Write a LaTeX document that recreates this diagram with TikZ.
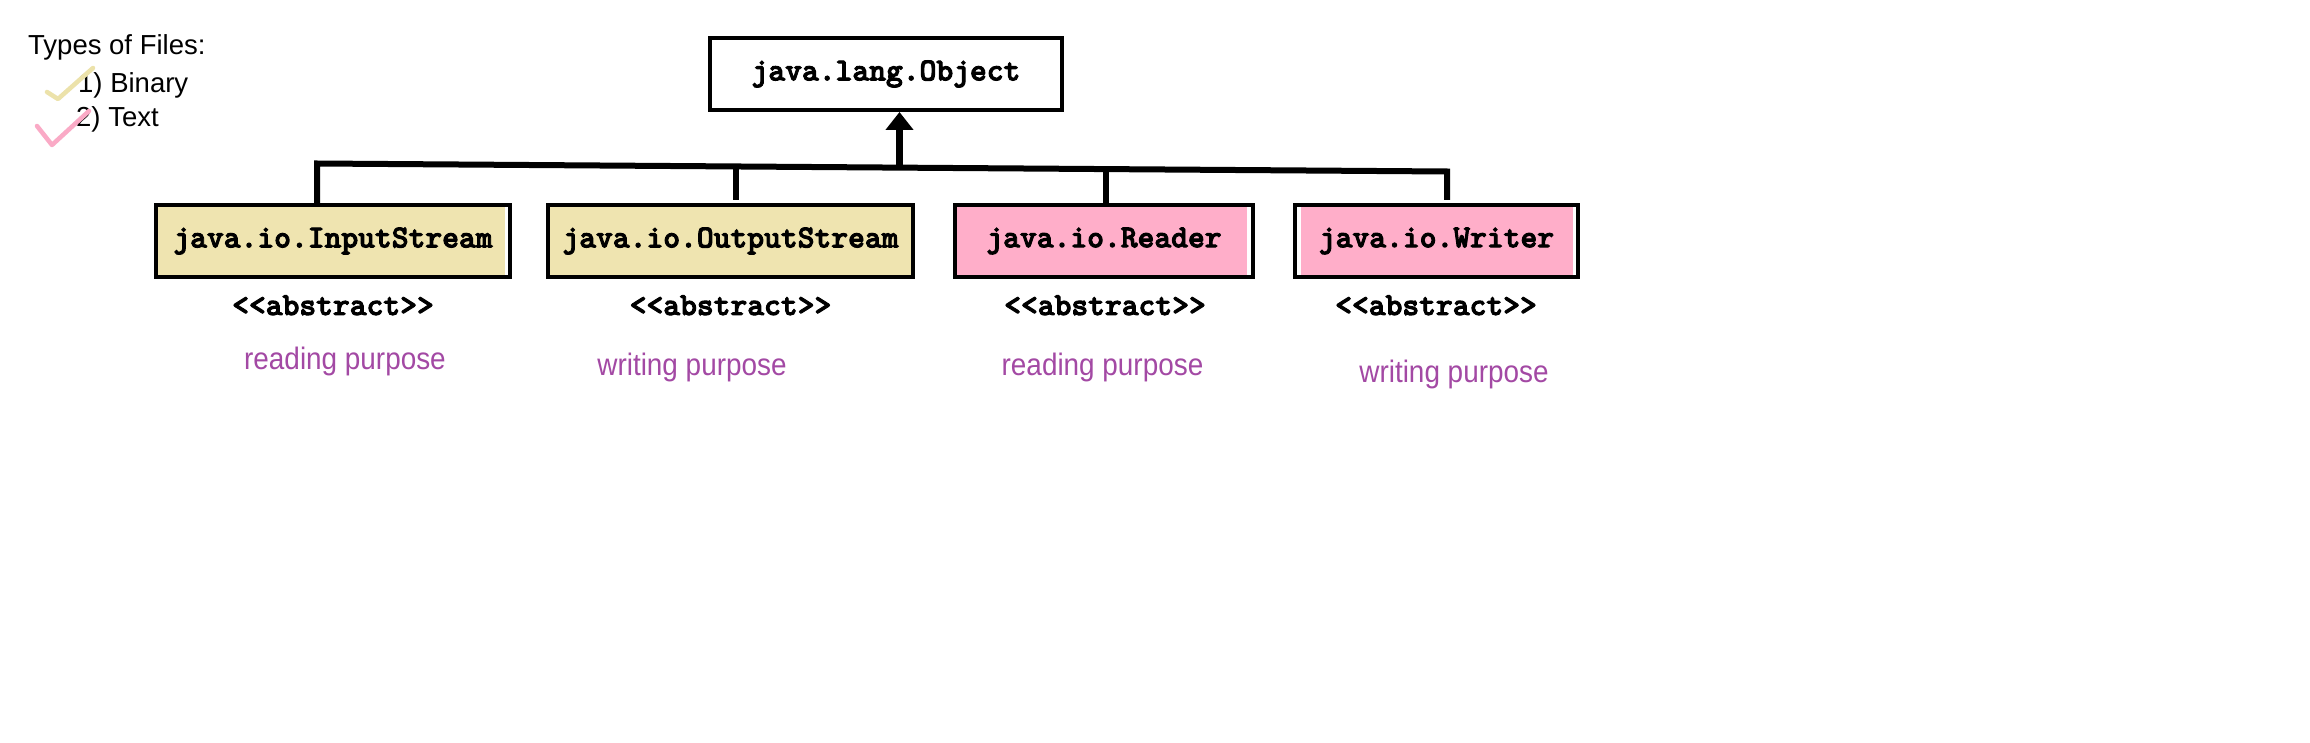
\documentclass[tikz,border=0pt]{standalone}
\usepackage{fontspec}
\setmainfont{Liberation Sans}
\newfontfamily\condsans[FakeStretch=0.9]{Liberation Sans}
\newfontfamily\javafont[FakeBold=3]{lmmonolt10-bold.otf}
\usetikzlibrary{arrows.meta,calc}
\definecolor{beigefill}{RGB}{239,228,176}
\definecolor{pinkfill}{RGB}{255,174,201}
\definecolor{purp}{RGB}{163,73,164}
\definecolor{checkbeige}{RGB}{236,226,170}
\definecolor{checkpink}{RGB}{250,170,198}
\begin{document}
\begin{tikzpicture}[x=1pt,y=-1pt,
  cls/.style={draw=black,line width=4pt,minimum height=72pt,inner sep=0pt,
    font=\fontsize{32}{36}\selectfont\javafont},
  abs/.style={inner sep=0pt,anchor=base,font=\fontsize{32}{36}\selectfont\javafont},
  purpose/.style={inner sep=0pt,text=purp,font=\fontsize{31}{36}\selectfont\condsans},
  note/.style={inner sep=0pt,anchor=base west,font=\fontsize{27.5}{32}\selectfont},
  bus/.style={line width=6pt,line join=miter},
  tick/.style={line width=4.5pt,line cap=round,line join=round}]
\fill[white] (0,0) rectangle (2310,743);
\useasboundingbox (0,0) rectangle (2310,743);

% legend
\node[note] (t0) at (28,55) {Types of Files:};
\node[note] (t1) at (78,93) {1) Binary};
\node[note] (t2) at (76,127) {2) Text};
\draw[tick,checkbeige] (47,92) .. controls (52,95) .. (58,99) -- (93,68);
\draw[tick,checkpink] (37,126) -- (52,145) -- (89,111);

% classes
\node[cls,minimum width=352pt] (obj) at (886,74) {java.lang.Object};
\node[cls,fill=beigefill,minimum width=354pt] (in) at (333,241) {java.io.InputStream};
\node[cls,fill=beigefill,minimum width=365pt] (out) at (730.5,241) {java.io.OutputStream};
\node[cls,fill=pinkfill,minimum width=298pt] (rd) at (1104,241) {java.io.Reader};
\node[cls,fill=pinkfill,minimum width=283pt] (wr) at (1436.5,241) {java.io.Writer};

% white strips inside some boxes
\fill[white] ([xshift=-7pt,yshift=-4pt]in.north east) rectangle ([xshift=-4pt,yshift=4pt]in.south east);
\fill[white] ([xshift=-8pt,yshift=-4pt]rd.north east) rectangle ([xshift=-4pt,yshift=4pt]rd.south east);
\fill[white] ([xshift=4pt,yshift=-4pt]wr.north west) rectangle ([xshift=8pt,yshift=4pt]wr.south west);
\fill[white] ([xshift=-7pt,yshift=-4pt]wr.north east) rectangle ([xshift=-4pt,yshift=4pt]wr.south east);

% stereotypes
\node[abs] (a1) at (333,315) {{<}{<}abstract{>}{>}};
\node[abs] (a2) at (730.5,315) {{<}{<}abstract{>}{>}};
\node[abs] (a3) at (1105,315) {{<}{<}abstract{>}{>}};
\node[abs] (a4) at (1436,315) {{<}{<}abstract{>}{>}};

% purposes
\node[purpose] (p1) at (345,361) {reading purpose};
\node[purpose] (p2) at (692,367) {writing purpose};
\node[purpose] (p3) at (1102.5,367) {reading purpose};
\node[purpose] (p4) at (1454,374) {writing purpose};

% inheritance bus
\coordinate (hL) at (317,163.5);
\coordinate (hR) at (1447,171.5);
\coordinate (b2) at (736,166.5);
\coordinate (e2) at (736,200);
\coordinate (b3) at (1106,169.3);
\coordinate (e4) at (1447,200);
\coordinate (b0) at (899.5,167);
\draw[bus] (in.north -| hL) -- (hL) -- (hR) -- (e4);
\draw[bus] (b2) -- (e2);
\draw[bus] (b3) -- (rd.north -| b3);
\draw[line width=7pt,-{Triangle[width=27pt,length=18pt]}] (b0) -- (obj.south -| b0);
\end{tikzpicture}
\end{document}
